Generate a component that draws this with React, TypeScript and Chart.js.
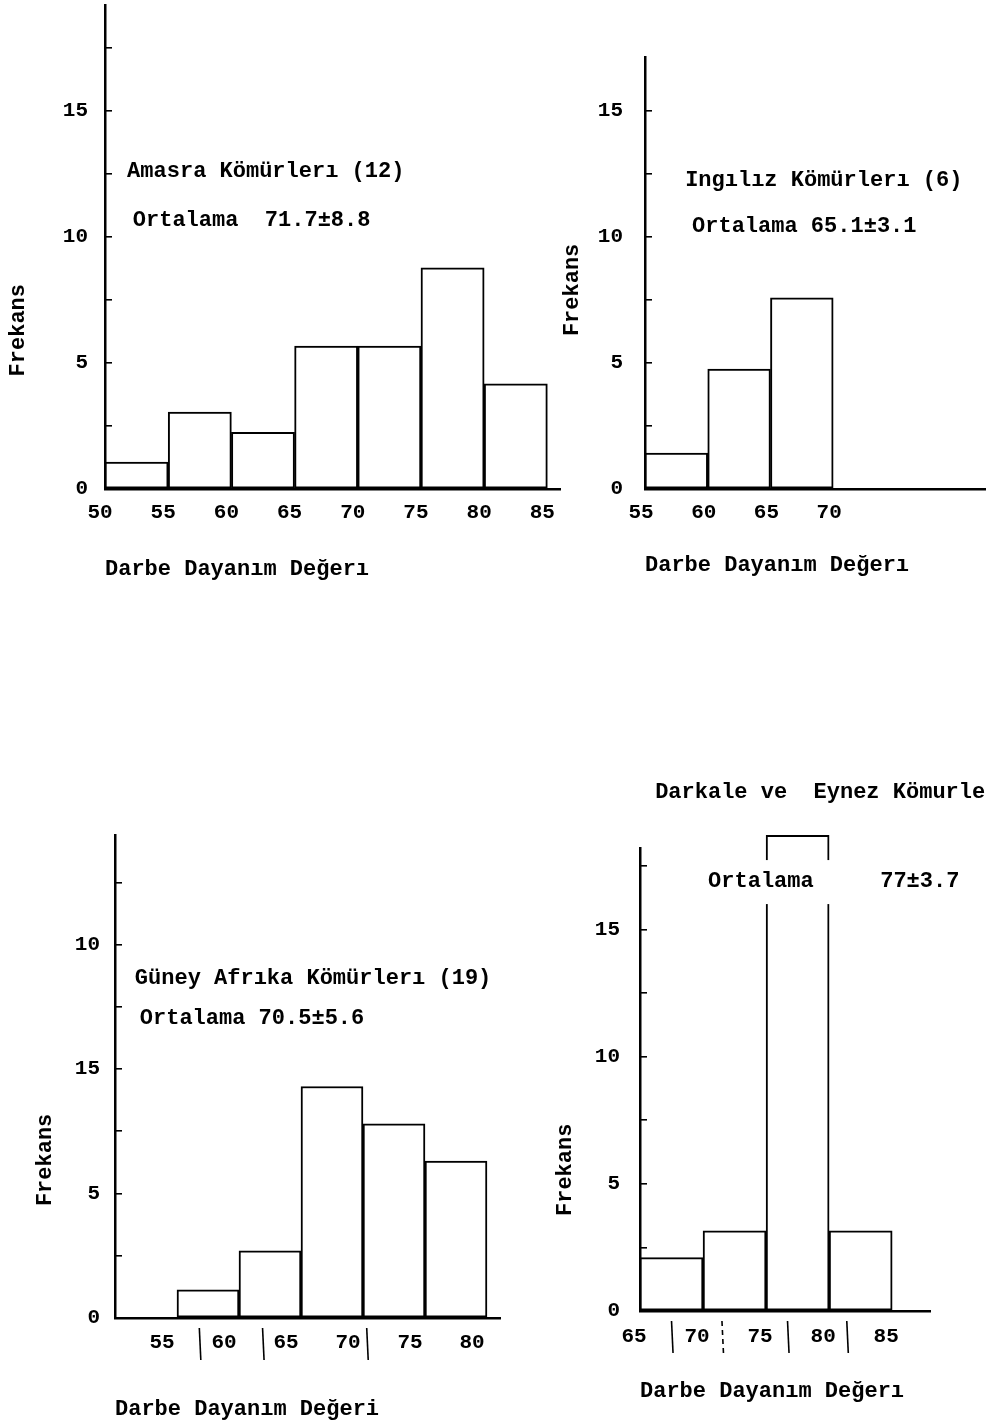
import React, { useEffect, useRef } from 'react';
import { Chart, registerables } from 'chart.js';

Chart.register(...registerables);

const FONT = '"Liberation Mono", "DejaVu Sans Mono", monospace';
const WEIGHT = 'bold';

// ---- Data ----
// Amasra Kömürleri
const amasraBins = [52.5, 57.5, 62.5, 67.5, 72.5, 77.5, 82.5];
const amasraFreq = [1.07, 3.05, 2.25, 5.67, 5.67, 8.77, 4.17];
const amasraXTicks = [50, 55, 60, 65, 70, 75, 80, 85];

// Ingiliz Kömürleri
const ingilizBins = [57.5, 62.5, 67.5];
const ingilizFreq = [1.43, 4.76, 7.58];
const ingilizXTicks = [55, 60, 65, 70];

// Güney Afrika Kömürleri
const guneyBins = [57.5, 62.5, 67.5, 72.5, 77.5];
const guneyFreq = [1.13, 2.7, 9.3, 7.8, 6.3];
const guneyXTicks = [55, 60, 65, 70, 75, 80];
const guneyYLabels = ['0', '5', '15', '10']; // as printed in the figure
const guneySeparators = [56.8, 61.9, 70.3];

// Darkale ve Eynez Kömürleri
const darkaleBins = [67.5, 72.5, 77.5, 82.5];
const darkaleFreq = [2.1, 3.15, 18.7, 3.15];
const darkaleXTicks = [65, 70, 75, 80, 85];
const darkaleSeparators = [67.5, 71.5, 76.7, 81.4];
const darkaleDashed = [false, true, false, false];

const standardYLabels = ['0', '5', '10', '15'];
const yTickValues = [0, 2.5, 5, 7.5, 10, 12.5, 15, 17.5];

type Note = { text: string; x: number; y: number; mask?: boolean };
type PanelCfg = {
  id: string;
  left: number; top: number; w: number; h: number;
  padTop: number; padRight: number; yWidth: number; xHeight: number;
  xMin: number; xMax: number; yMax: number;
  bins: number[]; freq: number[]; xTicks: number[]; yLabels: string[];
  labelOffset: number; xTickPad: number; yTickPad: number; xTitlePad: number;
  xTitle: string; notes: Note[]; yTitleDx: number; yTitleAt: number;
  separators?: number[]; dashed?: boolean[];
};

const panels: PanelCfg[] = [
  {
    id: 'amasra', left: 0, top: 0, w: 570, h: 600,
    padTop: 5, padRight: 10, yWidth: 105, xHeight: 111,
    xMin: 50, xMax: 86, yMax: 19.2,
    bins: amasraBins, freq: amasraFreq, xTicks: amasraXTicks, yLabels: standardYLabels,
    labelOffset: -5, xTickPad: 11, yTickPad: 24, xTitlePad: 17,
    xTitle: 'Darbe Dayanım Değerı',
    notes: [
      { text: 'Amasra Kömürlerı (12)', x: 51.75, y: 12.6 },
      { text: 'Ortalama  71.7±8.8', x: 52.2, y: 10.67 },
    ],
    yTitleDx: -87, yTitleAt: 6.3,
  },
  {
    id: 'ingiliz', left: 560, top: 40, w: 430, h: 560,
    padTop: 17, padRight: 5, yWidth: 85, xHeight: 111,
    xMin: 55, xMax: 82.1, yMax: 17.14,
    bins: ingilizBins, freq: ingilizFreq, xTicks: ingilizXTicks, yLabels: standardYLabels,
    labelOffset: -4, xTickPad: 11, yTickPad: 29, xTitlePad: 21,
    xTitle: 'Darbe Dayanım Değerı',
    notes: [
      { text: 'Ingılız Kömürlerı (6)', x: 58.2, y: 12.26 },
      { text: 'Ortalama 65.1±3.1', x: 58.75, y: 10.4 },
    ],
    yTitleDx: -73, yTitleAt: 7.9,
  },
  {
    id: 'guney', left: 0, top: 820, w: 520, h: 607,
    padTop: 15, padRight: 20, yWidth: 115, xHeight: 109,
    xMin: 50, xMax: 81.05, yMax: 19.4,
    bins: guneyBins, freq: guneyFreq, xTicks: guneyXTicks, yLabels: guneyYLabels,
    labelOffset: -15, xTickPad: 12, yTickPad: 22, xTitlePad: 4,
    xTitle: 'Darbe Dayanım Değeri',
    notes: [
      { text: 'Güney Afrıka Kömürlerı (19)', x: 51.6, y: 13.65 },
      { text: 'Ortalama 70.5±5.6', x: 52.0, y: 12.05 },
    ],
    yTitleDx: -70, yTitleAt: 6.35,
    separators: guneySeparators,
  },
  {
    id: 'darkale', left: 540, top: 770, w: 450, h: 657,
    padTop: 78, padRight: 60, yWidth: 100, xHeight: 116,
    xMin: 65, xMax: 88, yMax: 18.2,
    bins: darkaleBins, freq: darkaleFreq, xTicks: darkaleXTicks, yLabels: standardYLabels,
    labelOffset: -6, xTickPad: 13, yTickPad: 27, xTitlePad: 22,
    xTitle: 'Darbe Dayanım Değerı',
    notes: [
      { text: 'Darkale ve  Eynez Kömurle', x: 66.2, y: 20.4 },
      { text: 'Ortalama', x: 70.4, y: 16.9, mask: true },
      { text: '77±3.7', x: 84.05, y: 16.9 },
    ],
    yTitleDx: -75, yTitleAt: 5.55,
    separators: darkaleSeparators, dashed: darkaleDashed,
  },
];

const notesPlugin = {
  id: 'scanNotes',
  afterDraw(chart: any, _args: any, opts: any) {
    const p: PanelCfg = opts.panel;
    if (!p) return;
    const { ctx, chartArea } = chart;
    const x = chart.scales.x;
    const y = chart.scales.y;
    ctx.save();
    ctx.font = `${WEIGHT} 22px ${FONT}`;
    ctx.textBaseline = 'middle';
    ctx.textAlign = 'left';
    for (const n of p.notes) {
      const px = x.getPixelForValue(n.x);
      const py = y.getPixelForValue(n.y);
      if (n.mask) {
        const w = ctx.measureText(n.text).width;
        ctx.fillStyle = '#fff';
        ctx.fillRect(px - 4, py - 21, w + 24, 44);
      }
      ctx.fillStyle = '#000';
      ctx.fillText(n.text, px, py);
    }
    // hand-drawn separators under the x axis
    if (p.separators) {
      ctx.strokeStyle = '#000';
      ctx.lineWidth = 1.6;
      p.separators.forEach((v, i) => {
        const px = x.getPixelForValue(v);
        ctx.setLineDash(p.dashed && p.dashed[i] ? [5, 4] : []);
        ctx.beginPath();
        ctx.moveTo(px, chartArea.bottom + 10);
        ctx.lineTo(px + 1.5, chartArea.bottom + 42);
        ctx.stroke();
      });
      ctx.setLineDash([]);
    }
    // y-axis title
    ctx.translate(chartArea.left + p.yTitleDx, y.getPixelForValue(p.yTitleAt));
    ctx.rotate(-Math.PI / 2);
    ctx.textAlign = 'center';
    ctx.fillStyle = '#000';
    ctx.fillText('Frekans', 0, 0);
    ctx.restore();
  },
};

function buildConfig(p: PanelCfg): any {
  return {
    type: 'bar',
    data: {
      datasets: [
        {
          data: p.bins.map((b, i) => ({ x: b, y: p.freq[i] })),
          backgroundColor: '#fff',
          borderColor: '#000',
          borderWidth: 2,
          borderSkipped: false,
          barPercentage: 1,
          categoryPercentage: 1,
          clip: false,
        },
      ],
    },
    options: {
      responsive: false,
      animation: false,
      events: [],
      layout: { padding: { top: p.padTop, right: p.padRight, left: 0, bottom: 0 } },
      plugins: {
        legend: { display: false },
        tooltip: { enabled: false },
        title: { display: false },
        scanNotes: { panel: p },
      },
      scales: {
        x: {
          type: 'linear',
          min: p.xMin,
          max: p.xMax,
          offset: false,
          afterBuildTicks: (s: any) => {
            s.ticks = p.xTicks.map((v) => ({ value: v }));
          },
          afterFit: (s: any) => {
            s.height = p.xHeight;
            s.paddingLeft = 0; s.paddingRight = 0; s.paddingTop = 0; s.paddingBottom = 0;
          },
          grid: { display: true, offset: false, drawOnChartArea: false, drawTicks: false, color: '#000' },
          border: { display: true, color: '#000', width: 2.5 },
          ticks: {
            autoSkip: false,
            maxRotation: 0,
            minRotation: 0,
            padding: p.xTickPad,
            labelOffset: p.labelOffset,
            color: '#000',
            font: { family: FONT, size: 21, weight: WEIGHT },
            callback: (v: any) => String(v),
          },
          title: {
            display: true,
            text: p.xTitle,
            align: 'start',
            color: '#000',
            font: { family: FONT, size: 22, weight: WEIGHT },
            padding: { top: 0, bottom: p.xTitlePad },
          },
        },
        y: {
          type: 'linear',
          min: 0,
          max: p.yMax,
          afterBuildTicks: (s: any) => {
            s.ticks = yTickValues.filter((v) => v <= p.yMax).map((v) => ({ value: v }));
          },
          afterFit: (s: any) => {
            s.width = p.yWidth;
            s.paddingLeft = 0; s.paddingRight = 0; s.paddingTop = 0; s.paddingBottom = 0;
          },
          grid: { display: true, drawOnChartArea: false, drawTicks: true, tickLength: -7, color: '#000', lineWidth: 1.6 },
          border: { display: true, color: '#000', width: 2.5 },
          ticks: {
            padding: p.yTickPad,
            color: '#000',
            font: { family: FONT, size: 21, weight: WEIGHT },
            callback: (v: any) => (v % 5 === 0 ? p.yLabels[v / 5] : ''),
          },
        },
      },
    },
    plugins: [notesPlugin],
  };
}

function Panel({ cfg }: { cfg: PanelCfg }) {
  const ref = useRef<HTMLCanvasElement>(null);
  useEffect(() => {
    if (!ref.current) return;
    const chart = new Chart(ref.current, buildConfig(cfg));
    return () => chart.destroy();
  }, [cfg]);
  return (
    <canvas
      ref={ref}
      width={cfg.w}
      height={cfg.h}
      style={{ position: 'absolute', left: cfg.left, top: cfg.top, width: cfg.w, height: cfg.h }}
    />
  );
}

export default function App() {
  return (
    <div
      style={{
        position: 'absolute',
        left: 0,
        top: 0,
        width: 990,
        height: 1427,
        background: '#fff',
        overflow: 'hidden',
      }}
    >
      {panels.map((p) => (
        <Panel key={p.id} cfg={p} />
      ))}
    </div>
  );
}
